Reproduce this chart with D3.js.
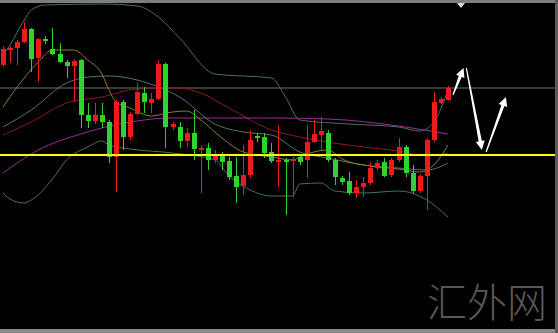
<!DOCTYPE html>
<html>
<head>
<meta charset="utf-8">
<script src="https://cdn.jsdelivr.net/npm/d3@7"></script>
<style>
  html, body { margin: 0; padding: 0; background: #000; }
  svg { display: block; }
</style>
</head>
<body>
<svg width="558" height="333"></svg>
<script>
// candle data, one row per bar: open, high, low, close
var opens  = [235,250,252,258,271,242,261,251,246,238,234,240,185,179,185,178,143,198,163,186,
              207,197,201,236,173,173,159,167,150,152,140,144,139,124,114,125,164,163,148,138,
              140,139,143,140,158,165,167,140,122,119,107,113,117,132,138,125,140,153,127,109,
              124,160,197,200];
var highs  = [254,254,260,278,272,262,264,272,257,240,241,241,197,197,197,180,200,200,188,217,
              213,207,240,237,178,178,172,190,155,157,150,148,143,143,155,170,167,167,157,175,
              142,143,145,175,180,183,170,142,124,128,120,123,138,140,142,142,162,155,135,126,
              162,208,203,214];
var lows   = [233,237,235,257,228,218,256,245,237,222,198,172,172,176,172,137,108,150,160,185,
              187,187,200,152,170,152,153,140,107,130,137,130,120,97,105,122,158,142,137,113,
              85,103,135,122,157,150,138,115,115,105,102,103,115,130,123,123,138,123,106,107,
              90,158,196,199];
var closes = [251,252,258,271,241,261,259,246,238,234,239,185,179,185,178,143,198,163,186,208,
              198,201,236,173,176,159,167,151,152,140,144,138,123,113,125,160,162,147,139,140,
              138,141,138,158,166,169,140,123,118,107,113,117,132,137,124,140,153,127,109,124,
              160,198,201,212];

// indicator lines, [bar index, level]
var bandUpper = [[0,245],[1,255],[3,280],[4,290],[6,295],[14,296],[19,294],[22,283],[25,262],
                 [30,226],[38,222],[40,203],[42,180],[49,176],[56,173],[59,169],[61,178],[63,210]];
var bandMid   = [[0,173],[4,190],[9,217],[12,223],[15,224],[19,220],[22,213],[25,203],[30,176],
                 [34,168],[38,165],[42,148],[46,142],[51,135],[56,132],[60,130],[63,137]];
var bandLower = [[0,107],[1,101],[3,97],[4,100],[7,121],[9,140],[12,153],[14,159],[15,155],[18,151],
                 [24,147],[30,140],[32,124],[35,110],[38,104],[41,104],[42,116],[45,117],[47,109],
                 [51,107],[56,109],[60,100],[63,83]];
var maFast    = [[0,193],[2,213],[5,238],[7,250],[10,250],[12,240],[14,226],[15,210],[16,198],[18,192],
                 [21,184],[24,188],[26,189],[28,180],[31,162],[34,148],[38,143],[41,140],[42,143],
                 [44,148],[46,150],[48,141],[52,134],[56,131],[59,128],[61,135],[63,155]];
var maRed     = [[0,165],[4,178],[9,197],[14,203],[19,211],[25,212],[28,207],[32,192],[38,170],
                 [42,163],[51,153],[56,149],[60,144],[63,147]];
var maPurple  = [[0,127],[5,150],[11,166],[18,178],[24,182],[38,182],[46,181],[56,174],[63,166]];

// horizontal levels
var levelGray = 212;
var levelYellow = 145;

// drawn arrows (forecast path)
var arrows = [
  [[63.7,205],[65.2,232]],
  [[65.6,232],[67.8,150]],
  [[68.4,148],[71.2,203]]
];

var watermark = "汇外网";

var W = 558, H = 333;
var svg = d3.select("svg");

var x = d3.scaleLinear().domain([0, 63]).range([3, 448]);
var y = d3.scaleLinear().domain([-33, 300]).range([333, 0]);

svg.append("rect").attr("width", W).attr("height", H).attr("fill", "#000");

// frame bits
svg.append("rect").attr("x", 0).attr("y", 0).attr("width", W).attr("height", 3).attr("fill", "#7d7d7d");
svg.append("path").attr("d", "M457,3 L465,3 L461,8 Z").attr("fill", "#dcdcdc");
svg.append("rect").attr("x", 0).attr("y", 329).attr("width", W).attr("height", 4).attr("fill", "#8a8a8a");
svg.append("rect").attr("x", 555).attr("y", 0).attr("width", 3).attr("height", H).attr("fill", "#5a5a5a");

var line = d3.line()
  .x(function(d) { return x(d[0]); })
  .y(function(d) { return y(d[1]); })
  .curve(d3.curveMonotoneX);

// horizontal gray level
svg.append("line")
  .attr("x1", 0).attr("x2", 555)
  .attr("y1", y(levelGray)).attr("y2", y(levelGray))
  .attr("stroke", "#6e6e6e").attr("stroke-width", 1);

var series = [
  {d: bandUpper, c: "#46735b"},
  {d: bandMid,   c: "#4f7a66"},
  {d: bandLower, c: "#46735b"},
  {d: maRed,     c: "#8a1c1c"},
  {d: maPurple,  c: "#9a2c9a"},
  {d: maFast,    c: "#8f7d2e"}
];
series.forEach(function(s) {
  svg.append("path")
    .attr("d", line(s.d))
    .attr("fill", "none")
    .attr("stroke", s.c)
    .attr("stroke-width", 1);
});

// candles
var data = opens.map(function(o, i) {
  return {i: i, o: o, h: highs[i], l: lows[i], c: closes[i]};
});
var RED = "#f01a1a", GREEN = "#2fd32f";
var g = svg.append("g");
g.selectAll(".wick").data(data).enter().append("line")
  .attr("x1", function(d) { return Math.round(x(d.i)) + 0.5; })
  .attr("x2", function(d) { return Math.round(x(d.i)) + 0.5; })
  .attr("y1", function(d) { return y(d.h); })
  .attr("y2", function(d) { return y(d.l); })
  .attr("stroke", function(d) { return d.c >= d.o ? RED : GREEN; })
  .attr("stroke-width", 1);
g.selectAll(".body").data(data).enter().append("rect")
  .attr("x", function(d) { return Math.round(x(d.i)) - 2; })
  .attr("width", 5)
  .attr("y", function(d) { return y(Math.max(d.o, d.c)); })
  .attr("height", function(d) { return Math.max(1.5, Math.abs(y(d.o) - y(d.c))); })
  .attr("fill", function(d) { return d.c >= d.o ? RED : GREEN; });

// yellow level on top
svg.append("line")
  .attr("x1", 0).attr("x2", 555)
  .attr("y1", y(levelYellow)).attr("y2", y(levelYellow))
  .attr("stroke", "#ffff10").attr("stroke-width", 2);

// arrows: tapered shaft + head
arrows.forEach(function(a) {
  var x0 = x(a[0][0]), y0 = y(a[0][1]), x1 = x(a[1][0]), y1 = y(a[1][1]);
  var dx = x1 - x0, dy = y1 - y0, len = Math.sqrt(dx * dx + dy * dy);
  var ux = dx / len, uy = dy / len, px = -uy, py = ux;
  var hl = 9, hw = 4.5;
  var bx = x1 - ux * hl, by = y1 - uy * hl;
  var p = [
    [x0 + px * 0.6, y0 + py * 0.6],
    [bx + px * 1.6, by + py * 1.6],
    [bx + px * hw, by + py * hw],
    [x1, y1],
    [bx - px * hw, by - py * hw],
    [bx - px * 1.6, by - py * 1.6],
    [x0 - px * 0.6, y0 - py * 0.6]
  ];
  svg.append("path")
    .attr("d", "M" + p.map(function(q) { return q.join(","); }).join("L") + "Z")
    .attr("fill", "#ffffff");
});

svg.append("text")
  .attr("x", 427).attr("y", 317)
  .attr("font-family", "'Noto Sans CJK SC', sans-serif")
  .attr("font-weight", 300)
  .attr("font-size", 40)
  .attr("fill", "#585858")
  .text(watermark);
</script>
</body>
</html>
